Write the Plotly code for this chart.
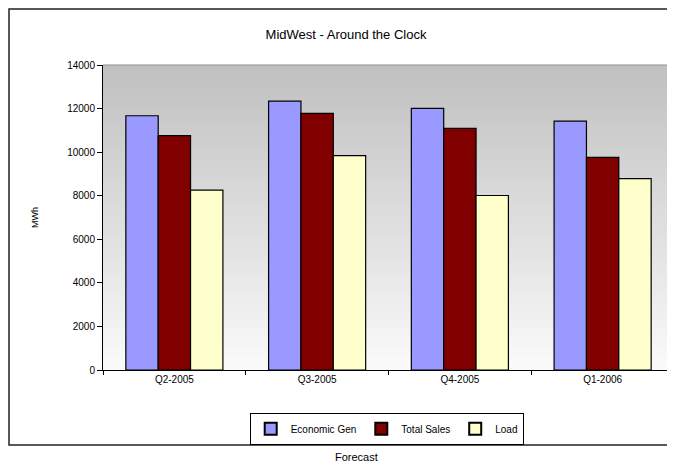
import plotly.graph_objects as go

categories = ["Q2-2005", "Q3-2005", "Q4-2005", "Q1-2006"]
economic_gen = [11670, 12340, 12010, 11420]
total_sales = [10760, 11780, 11090, 9760]
load = [8260, 9840, 8010, 8780]
y_ticks = [0, 2000, 4000, 6000, 8000, 10000, 12000, 14000]

FONT = "Liberation Sans, Arial, sans-serif"

# page shows the figure offset by the body margin (8px); compensate
OFF = 8
W, H = 675, 466
L, T, R_EDGE, B_EDGE = 103 - OFF, 65 - OFF, 674 - OFF, 370 - OFF
PW, PH = R_EDGE - L, B_EDGE - T


def px(x):
    return (x - OFF - L) / PW


def py(y):
    return (B_EDGE - (y - OFF)) / PH


fig = go.Figure()
series = [
    ("Economic Gen", economic_gen, "#9999FF"),
    ("Total Sales", total_sales, "#800000"),
    ("Load", load, "#FFFFCC"),
]
for name, vals, col in series:
    fig.add_trace(go.Bar(
        x=categories, y=vals, name=name,
        marker=dict(color=col, line=dict(color="#000000", width=1.2)),
    ))

shapes = []
n = 60
for i in range(n):
    t = i / (n - 1)
    g = int(round(192 + (250 - 192) * t))
    # each band runs from its top to the bottom of the plot, so no seams show
    shapes.append(dict(
        type="rect", xref="x domain", yref="y domain",
        x0=0, x1=1, y0=0, y1=1 - i / n,
        fillcolor=f"rgb({g},{g},{g})", line=dict(width=0), layer="below",
    ))
shapes.append(dict(type="line", xref="x domain", yref="y domain",
                   x0=0, x1=1, y0=1, y1=1, line=dict(color="#8c8c8c", width=1)))
shapes.append(dict(type="rect", xref="paper", yref="paper",
                   x0=px(9), x1=px(690), y0=py(445), y1=py(9),
                   line=dict(color="#222222", width=1.5), fillcolor="rgba(0,0,0,0)"))

fig.update_layout(
    width=W, height=H,
    margin=dict(l=L, r=W - R_EDGE, t=T, b=H - B_EDGE),
    paper_bgcolor="white", plot_bgcolor="rgba(0,0,0,0)",
    barmode="group", bargap=0.32, bargroupgap=0,
    font=dict(family=FONT, size=10, color="#000000"),
    title=dict(text="MidWest - Around the Clock", x=px(346), xref="paper",
               xanchor="center", y=1 - (34 - OFF) / H, yanchor="middle",
               font=dict(family=FONT, size=13, color="#000000")),
    shapes=shapes,
    showlegend=True,
    legend=dict(orientation="h", x=px(387), xanchor="center", y=py(413), yanchor="top",
                bordercolor="#000000", borderwidth=1.2, bgcolor="white",
                font=dict(family=FONT, size=10), itemsizing="constant",
                tracegroupgap=0, itemwidth=30),
    annotations=[dict(text="Forecast", xref="paper", yref="paper",
                      x=px(356), y=py(457),
                      xanchor="center", yanchor="middle", showarrow=False,
                      font=dict(family=FONT, size=11))],
)
fig.update_xaxes(
    type="category", showgrid=False, showline=True, linecolor="#000000", linewidth=1,
    ticks="outside", tickson="boundaries", ticklen=4, tickcolor="#000000",
    tickfont=dict(family=FONT, size=10), range=[-0.5, 3.5],
)
fig.update_yaxes(
    range=[0, 14000], tickvals=y_ticks, ticktext=[str(v) for v in y_ticks],
    showgrid=False, zeroline=False, showline=True, linecolor="#000000", linewidth=1,
    ticks="outside", ticklen=5, tickcolor="#000000",
    tickfont=dict(family=FONT, size=10),
    title=dict(text="MWh", font=dict(family=FONT, size=9), standoff=27),
)

fig.write_html("out.html")
